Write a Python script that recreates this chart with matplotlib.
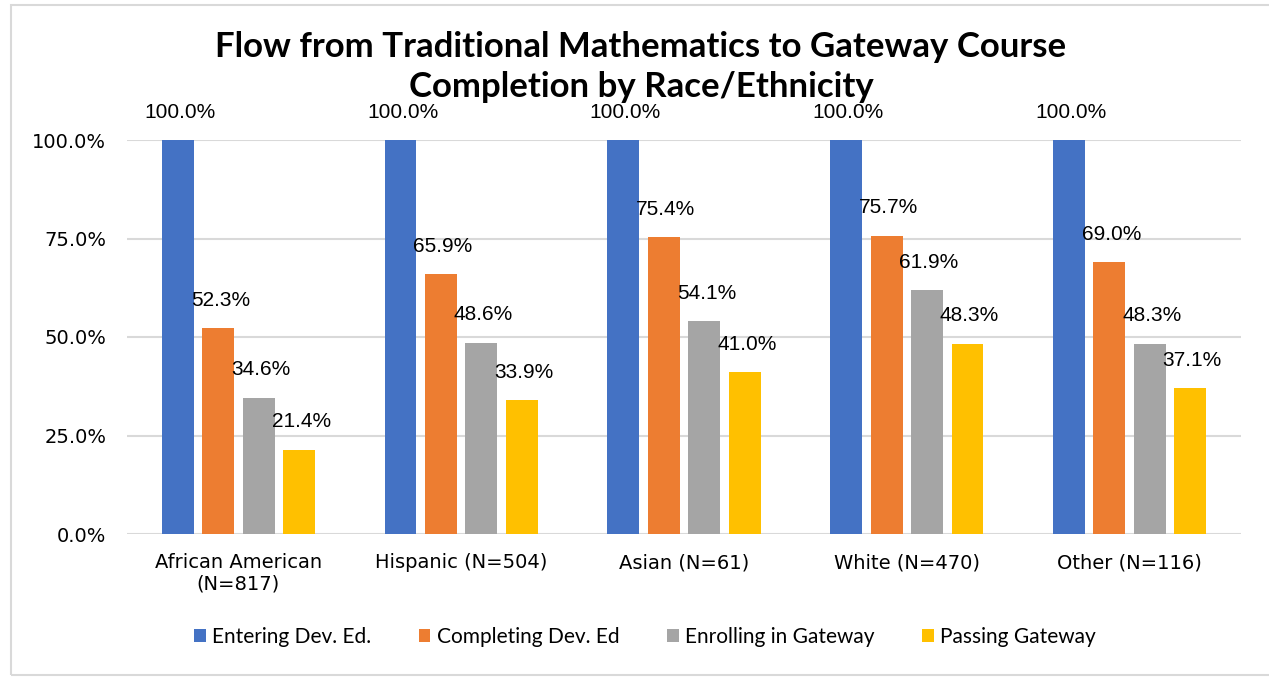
import matplotlib
matplotlib.use("Agg")
import matplotlib.pyplot as plt
import numpy as np
from matplotlib.patches import Rectangle

categories = ["African American\n(N=817)", "Hispanic (N=504)", "Asian (N=61)", "White (N=470)", "Other (N=116)"]
series_names = ["Entering Dev. Ed.", "Completing Dev. Ed", "Enrolling in Gateway", "Passing Gateway"]
entering = [100.0, 100.0, 100.0, 100.0, 100.0]
completing = [52.3, 65.9, 75.4, 75.7, 69.0]
enrolling = [34.6, 48.6, 54.1, 61.9, 48.3]
passing = [21.4, 33.9, 41.0, 48.3, 37.1]
yticks = [0, 25, 50, 75, 100]
colors = ["#4472C4", "#ED7D31", "#A5A5A5", "#FFC000"]

W, H = 1269, 677
fig = plt.figure(figsize=(W / 100, H / 100), dpi=100)
font = "Lato"
tickfont = "DejaVu Sans"

# outer border
fig.patches.append(Rectangle((11 / W, 1 - 675 / H), 1.2, (675 - 5) / H, transform=fig.transFigure,
                             fill=False, edgecolor="#D9D9D9", linewidth=1.5))

ax = fig.add_axes([127 / W, 1 - 534 / H, (1241 - 127) / W, (534 - 140) / H])
series = [entering, completing, enrolling, passing]
x = np.arange(len(categories))
bw = 0.143
step = 0.1815
offsets = (np.arange(4) - 1.5) * step
for i, (vals, c, name) in enumerate(zip(series, colors, series_names)):
    bars = ax.bar(x + offsets[i], vals, width=bw, color=c, label=name, zorder=3)
    for b, v in zip(bars, vals):
        ax.annotate(f"{v:.1f}%", (b.get_x() + b.get_width() / 2, v), xytext=(1.5, 20),
                    textcoords="offset points", ha="center", va="center",
                    fontsize=15, family="Liberation Sans", color="#000000", annotation_clip=False)

ax.set_xlim(-0.5, 4.5)
ax.set_ylim(0, 100)
ax.set_yticks(yticks)
ax.set_yticklabels([f"{t:.1f}%" for t in yticks], fontsize=14, family=tickfont)
ax.set_xticks(x)
ax.set_xticklabels(categories, fontsize=14, family=tickfont, linespacing=1.15)
ax.tick_params(length=0)
ax.tick_params(axis="x", pad=14)
ax.tick_params(axis="y", pad=15)
for s in ax.spines.values():
    s.set_visible(False)
ax.grid(axis="y", color="#D9D9D9", linewidth=1.5, zorder=0)
ax.set_axisbelow(True)

fig.text(641 / W, 1 - 67 / H, "Flow from Traditional Mathematics to Gateway Course\nCompletion by Race/Ethnicity",
         ha="center", va="center", fontsize=25, fontweight="bold", family=font, linespacing=1.32)

leg = fig.legend(loc="center", bbox_to_anchor=(645 / W, 1 - 637 / H), ncol=4, frameon=False,
                 prop={"family": font, "size": 15}, handlelength=0.55, handleheight=0.55,
                 handletextpad=0.3, columnspacing=2.3)

fig.savefig("out.png", dpi=100)
